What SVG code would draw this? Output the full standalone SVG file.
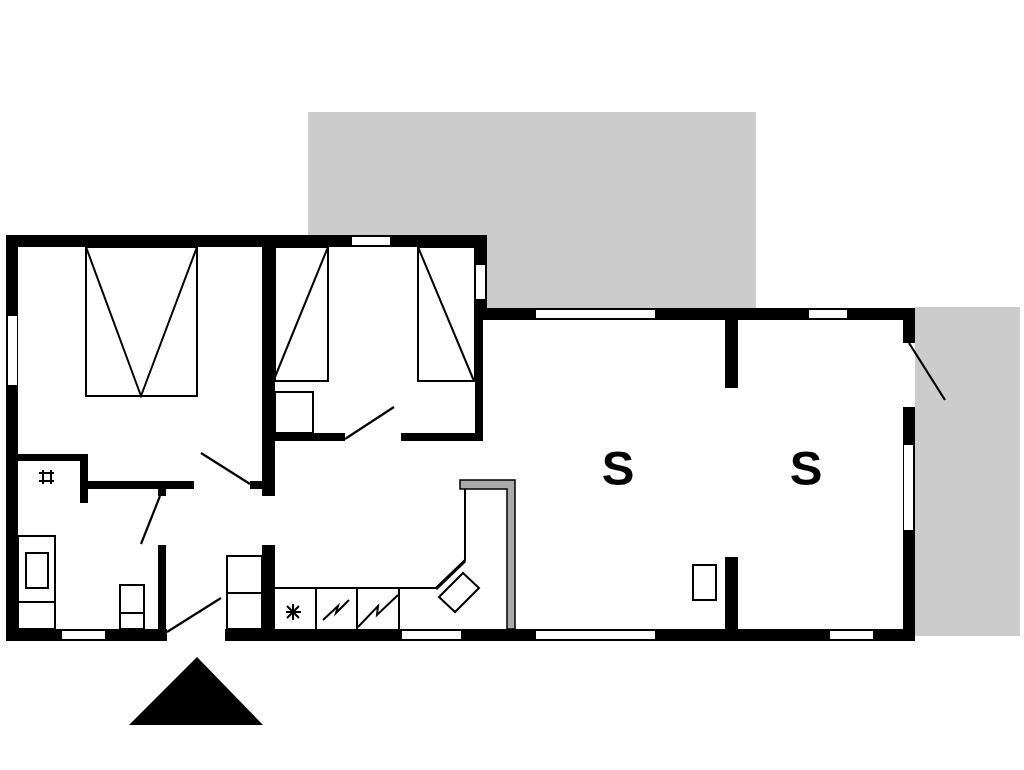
<svg xmlns="http://www.w3.org/2000/svg" width="1024" height="770" viewBox="0 0 1024 770">
<style>
.wall{fill:#000}
.win{fill:#fff}
.ter{fill:#ccc}
.ln{fill:none;stroke:#000;stroke-width:2}
.door{fill:none;stroke:#000;stroke-width:2.2}
.lbl{font-family:"Liberation Sans",Arial,sans-serif;font-size:49px;font-weight:700;fill:#000;text-anchor:middle}
</style>
<rect width="1024" height="770" fill="#fff"/>
<g id="terraces">
<polygon class="ter" points="308,112 756,112 756,308 487,308 487,235 308,235"/>
<rect class="ter" x="915" y="307" width="105" height="329"/>
</g>
<g id="walls">
<rect class="wall" x="6" y="235" width="481" height="12"/>
<rect class="wall" x="6" y="235" width="12" height="406"/>
<rect class="wall" x="6" y="629" width="161" height="12"/>
<rect class="wall" x="225" y="629" width="690" height="12"/>
<rect class="wall" x="262" y="247" width="13" height="249"/>
<rect class="wall" x="262" y="545" width="13" height="84"/>
<rect class="wall" x="250" y="481" width="12" height="8"/>
<rect class="wall" x="475" y="247" width="12" height="73"/>
<rect class="wall" x="475" y="320" width="8" height="121"/>
<rect class="wall" x="475" y="308" width="440" height="12"/>
<rect class="wall" x="274" y="433" width="71" height="8"/>
<rect class="wall" x="401" y="433" width="82" height="8"/>
<rect class="wall" x="18" y="454" width="70" height="7"/>
<rect class="wall" x="80" y="454" width="8" height="49"/>
<rect class="wall" x="88" y="481" width="106" height="8"/>
<rect class="wall" x="158" y="489" width="8" height="7"/>
<rect class="wall" x="158" y="545" width="8" height="84"/>
<rect class="wall" x="903" y="308" width="12" height="35"/>
<rect class="wall" x="903" y="407" width="12" height="234"/>
<rect class="wall" x="725" y="320" width="13" height="68"/>
<rect class="wall" x="725" y="557" width="13" height="72"/>
</g>
<g id="windows">
<rect class="win" x="8" y="316" width="9" height="69"/>
<rect class="win" x="62" y="631" width="43" height="8"/>
<rect class="win" x="352" y="237" width="38" height="8"/>
<rect class="win" x="476" y="265" width="9" height="34"/>
<rect class="win" x="536" y="310" width="119" height="8"/>
<rect class="win" x="809" y="310" width="38" height="8"/>
<rect class="win" x="904" y="445" width="9" height="85"/>
<rect class="win" x="402" y="631" width="59" height="8"/>
<rect class="win" x="536" y="631" width="119" height="8"/>
<rect class="win" x="830" y="631" width="43" height="8"/>
</g>
<g id="doors">
<line class="door" x1="201" y1="453" x2="250" y2="484"/>
<line class="door" x1="160" y1="496" x2="141" y2="544"/>
<line class="door" x1="167" y1="632" x2="221" y2="598"/>
<line class="door" x1="345" y1="439" x2="394" y2="407"/>
<line class="door" x1="909" y1="343" x2="945" y2="400"/>
</g>
<g id="furniture">
<rect class="ln" x="86" y="247" width="111" height="149"/>
<polyline class="ln" points="86,247 141,396 197,247"/>
<rect class="ln" x="275" y="247" width="53" height="134"/>
<line class="ln" x1="328" y1="247" x2="275" y2="377"/>
<rect class="ln" x="418" y="247" width="57" height="134"/>
<line class="ln" x1="418" y1="247" x2="474" y2="381"/>
<rect class="ln" x="275" y="392" width="38" height="41"/>
<rect class="ln" x="18" y="536" width="37" height="93"/>
<line class="ln" x1="18" y1="602" x2="55" y2="602"/>
<rect class="ln" x="26" y="553" width="22" height="35"/>
<rect class="ln" x="120" y="585" width="24" height="44"/>
<line class="ln" x1="120" y1="613" x2="144" y2="613"/>
<rect class="ln" x="227" y="556" width="35" height="73"/>
<line class="ln" x1="227" y1="593" x2="262" y2="593"/>
<rect class="ln" x="693" y="565" width="23" height="35"/>
<path class="ln" d="M43 470V484M51 470V484M39 473H54M39 481H54"/>
</g>
<g id="kitchen">
<path d="M460 480H515V629H507V489H460Z" fill="#aaa" stroke="#000" stroke-width="1.5"/>
<polyline class="ln" points="274,588 436,588 465,560 465,489"/>
<line x1="436" y1="589" x2="465" y2="561" stroke="#000" stroke-width="3"/>
<line class="ln" x1="316" y1="588" x2="316" y2="629"/>
<line class="ln" x1="357" y1="588" x2="357" y2="629"/>
<line class="ln" x1="399" y1="588" x2="399" y2="629"/>
<polygon class="ln" points="463,573 479,588 455,612 439,597"/>
<path class="ln" d="M293 604V620M286 612H301M287 606L299 618M299 606L287 618"/>
<polyline class="ln" points="323,620 338,606 336,613 349,600"/>
<polyline class="ln" points="358,627 378,606 377,615 398,595"/>
</g>
<g id="labels">
<text class="lbl" x="618" y="485">S</text>
<text class="lbl" x="806" y="485">S</text>
</g>
<polygon id="entrance" points="197,657 263,725 129,725" fill="#000"/>
</svg>
